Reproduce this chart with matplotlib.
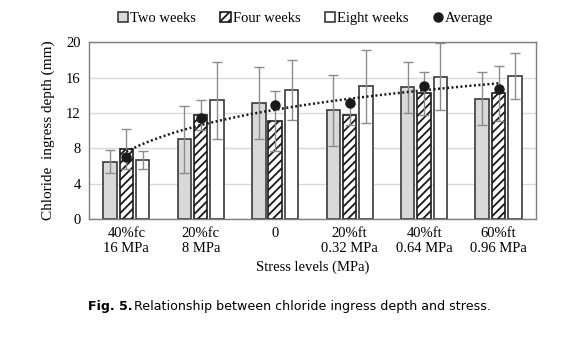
import numpy as np
import matplotlib
matplotlib.use("Agg")
from matplotlib import pyplot as plt

# datos
levels = ["40%fc\n16 MPa", "20%fc\n8 MPa", "0", "20%ft\n0.32 MPa", "40%ft\n0.64 MPa", "60%ft\n0.96 MPa"]
two_weeks = [6.5, 9.0, 13.1, 12.3, 14.9, 13.6]
two_err = [1.3, 3.8, 4.1, 4.0, 2.9, 3.0]
four_weeks = [7.9, 11.8, 11.1, 11.8, 14.2, 14.2]
four_err = [2.3, 1.7, 3.4, 1.2, 2.4, 3.1]
eight_weeks = [6.7, 13.4, 14.6, 15.0, 16.1, 16.2]
eight_err = [1.0, 4.4, 3.4, 4.1, 3.8, 2.6]
average = [7.0, 11.4, 12.9, 13.1, 15.0, 14.7]

plt.rcParams["font.family"] = ["Liberation Serif", "DejaVu Serif"]
plt.rcParams["hatch.linewidth"] = 1.3

fig = plt.figure(figsize=(5.67, 3.51), dpi=100)
ax = fig.add_axes([0.157, 0.376, 0.788, 0.504])

x = np.arange(len(levels))
w = 0.18
off = 0.22
edge = "#3a3a3a"
ekw = dict(ecolor="#8c8c8c", elinewidth=1.0, capsize=3.5, capthick=1.0)

b1 = ax.bar(x - off, two_weeks, w, yerr=two_err, color="#d9d9d9", edgecolor=edge,
            linewidth=1.2, error_kw=ekw, label="Two weeks", zorder=2)
b2 = ax.bar(x, four_weeks, w, yerr=four_err, color="white", edgecolor="#1a1a1a",
            hatch="////", linewidth=1.2, error_kw=ekw, label="Four weeks", zorder=2)
b3 = ax.bar(x + off, eight_weeks, w, yerr=eight_err, color="white", edgecolor=edge,
            linewidth=1.2, error_kw=ekw, label="Eight weeks", zorder=2)
p, = ax.plot(x, average, "o", color="#1a1a1a", markersize=6.5, label="Average", zorder=4)

# línea de tendencia logarítmica
a, b = np.polyfit(np.log(x + 1), average, 1)
xt = np.linspace(0, len(levels) - 1, 200)
ax.plot(xt, a * np.log(xt + 1) + b, color="#1a1a1a", linestyle=(0, (0.8, 1.0)),
        linewidth=1.8, zorder=3)

ax.set_xlim(-0.5, len(levels) - 0.5)
ax.set_ylim(0, 20)
ax.set_yticks([0, 4, 8, 12, 16, 20])
ax.set_xticks(x)
ax.set_xticklabels(levels, linespacing=1.15)
ax.tick_params(length=0, labelsize=10.5, pad=6)
ax.yaxis.grid(True, color="#d9d9d9", linewidth=1.0, zorder=0)
ax.set_axisbelow(True)
for s in ax.spines.values():
    s.set_color("#7f7f7f")
    s.set_linewidth(1.0)

ax.set_ylabel("Chloride  ingress depth (mm)", fontsize=11, labelpad=8)
ax.set_xlabel("Stress levels (MPa)", fontsize=10.5, labelpad=4)

ax.legend([b1, b2, b3, p], ["Two weeks", "Four weeks", "Eight weeks", "Average"],
          loc="lower left", bbox_to_anchor=(0.052, 1.065), ncol=4, frameon=False,
          fontsize=10.5, handlelength=0.7, handleheight=0.7, handletextpad=0.15,
          columnspacing=1.65, borderaxespad=0)

fig.text(0.155, 0.116, "Fig. 5.", fontsize=9.1, fontweight="bold", family="DejaVu Sans")
fig.text(0.237, 0.116, "Relationship between chloride ingress depth and stress.",
         fontsize=9.1, family="DejaVu Sans")

fig.savefig("out.png", dpi=100)
